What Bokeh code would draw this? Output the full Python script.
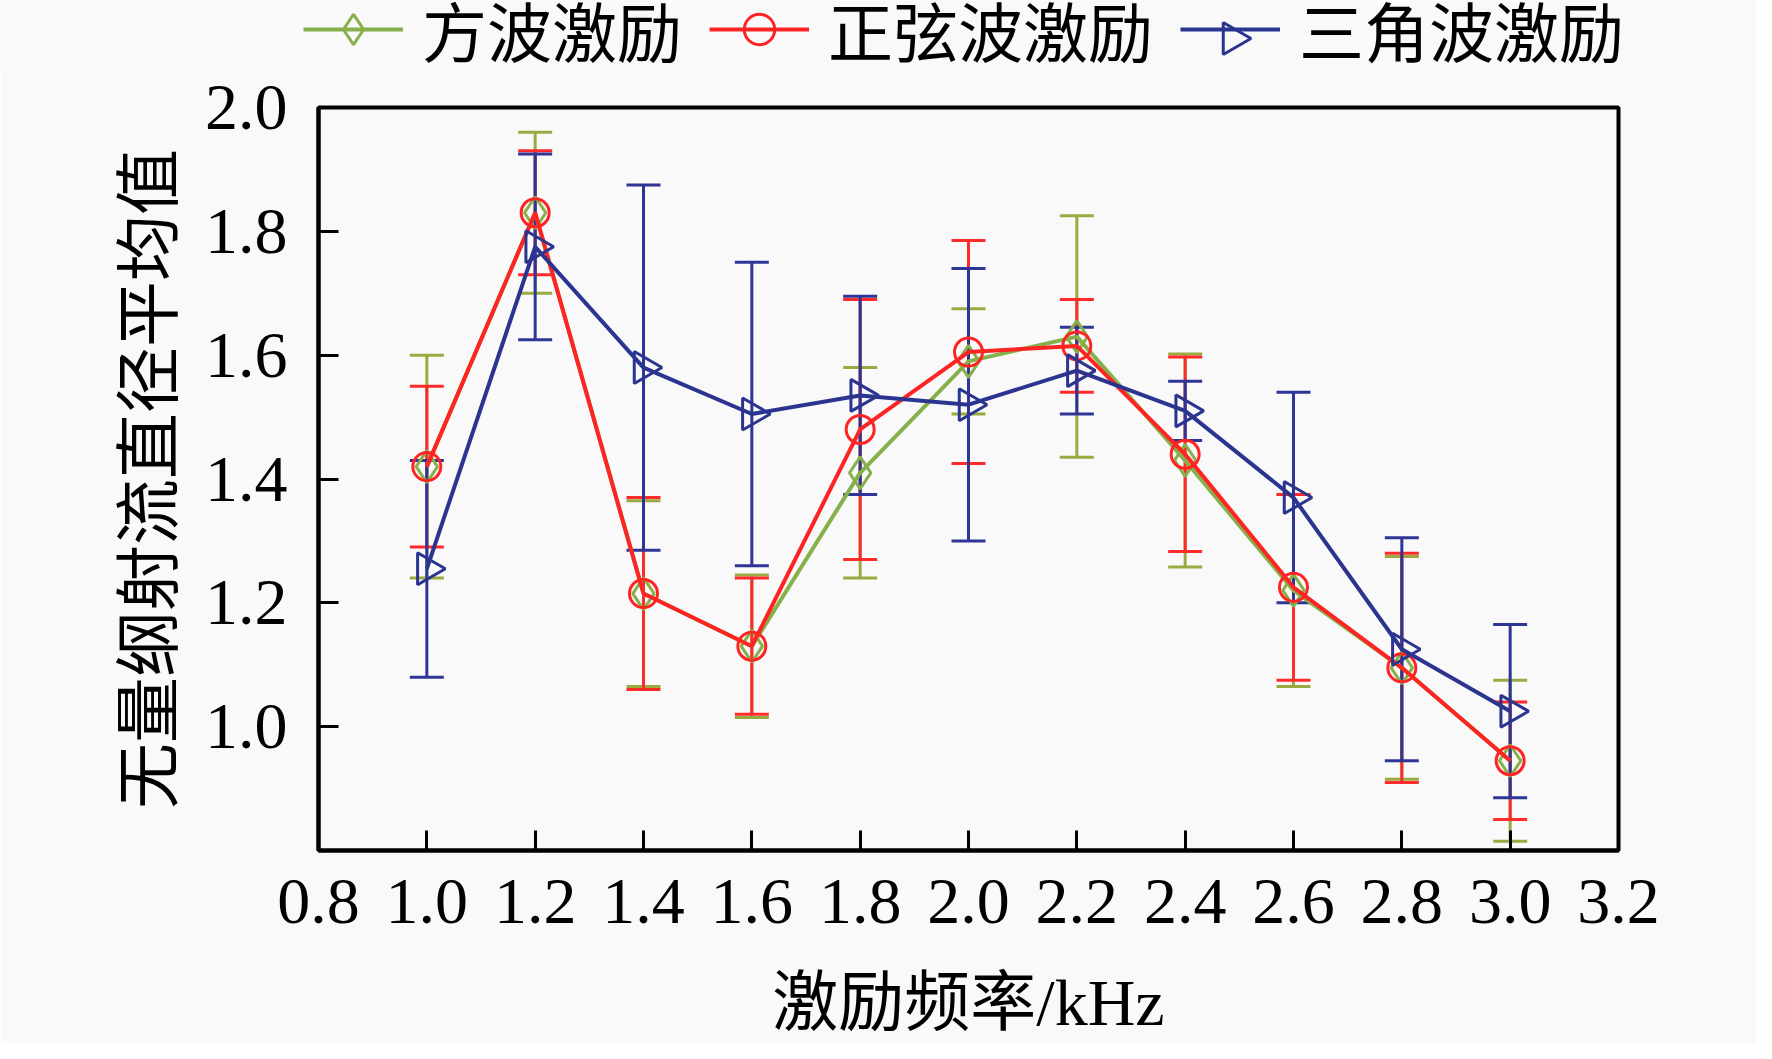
import math
from bokeh.plotting import figure
from bokeh.layouts import column
from bokeh.models import (Range1d, FixedTicker, PrintfTickFormatter, Whisker, TeeHead,
                          ColumnDataSource, Legend, LegendItem)
from bokeh.embed import file_html
from bokeh.resources import INLINE

freq = [1.0, 1.2, 1.4, 1.6, 1.8, 2.0, 2.2, 2.4, 2.6, 2.8, 3.0]

square_mean = [1.42, 1.83, 1.215, 1.13, 1.41, 1.59, 1.63, 1.43, 1.22, 1.095, 0.945]
square_err = [0.18, 0.13, 0.15, 0.115, 0.17, 0.085, 0.195, 0.172, 0.155, 0.18, 0.13]

sine_mean = [1.42, 1.83, 1.215, 1.13, 1.48, 1.605, 1.615, 1.44, 1.225, 1.095, 0.945]
sine_err = [0.13, 0.10, 0.155, 0.11, 0.21, 0.18, 0.075, 0.157, 0.15, 0.185, 0.095]

tri_mean = [1.255, 1.775, 1.58, 1.505, 1.535, 1.52, 1.575, 1.51, 1.37, 1.125, 1.025]
tri_err = [0.175, 0.15, 0.295, 0.245, 0.16, 0.22, 0.07, 0.048, 0.17, 0.18, 0.14]

series_names = ["方波激励", "正弦波激励", "三角波激励"]
x_ticks = [0.8, 1.0, 1.2, 1.4, 1.6, 1.8, 2.0, 2.2, 2.4, 2.6, 2.8, 3.0, 3.2]
y_ticks = [1.0, 1.2, 1.4, 1.6, 1.8, 2.0]

FONT = "'Liberation Serif', 'Times New Roman', 'Noto Sans CJK SC'"
BG = "#f9f9f9"

W = 1756
LEG_H = 70
MAIN_H = 1043 - LEG_H

colors = ["#86b04a", "#ff2424", "#2b3590"]
err_colors = ["#9aaa40", "#ff2a2a", "#2e3596"]
means = [square_mean, sine_mean, tri_mean]
errs = [square_err, sine_err, tri_err]
markers = ["diamond", "circle", "triangle"]
angles = [0.0, 0.0, -math.pi / 2]
sizes = [32, 28, 32]

# ---- main plot ----
p = figure(width=W, height=MAIN_H, output_backend="svg", toolbar_location=None,
           x_range=Range1d(0.8, 3.2), y_range=Range1d(0.8, 2.0),
           min_border_left=318, min_border_right=138, min_border_top=107 - LEG_H,
           min_border_bottom=193,
           background_fill_color=BG, border_fill_color=BG)
p.grid.visible = False
p.outline_line_color = "black"
p.outline_line_width = 4

for ax in (p.xaxis[0], p.yaxis[0]):
    ax.axis_line_width = 4
    ax.axis_line_color = "black"
    ax.major_tick_in = 20
    ax.major_tick_out = 0
    ax.major_tick_line_width = 3
    ax.minor_tick_line_color = None
    ax.major_label_text_font = FONT
    ax.major_label_text_font_size = "66px"
    ax.major_label_text_color = "black"
    ax.axis_label_text_font = FONT
    ax.axis_label_text_font_size = "66px"
    ax.axis_label_text_font_style = "normal"
    ax.axis_label_text_color = "black"
    ax.formatter = PrintfTickFormatter(format="%.1f")

p.xaxis.ticker = FixedTicker(ticks=x_ticks)
p.yaxis.ticker = FixedTicker(ticks=y_ticks)
p.xaxis.major_label_standoff = 29
p.yaxis.major_label_standoff = 31
p.xaxis.axis_label = "激励频率/kHz"
p.yaxis.axis_label = "无量纲射流直径平均值"
p.xaxis.axis_label_standoff = 40
p.yaxis.axis_label_standoff = 16

for i in range(3):
    m = means[i]
    e = errs[i]
    src = ColumnDataSource(dict(x=freq, y=m,
                                lo=[a - b for a, b in zip(m, e)],
                                hi=[a + b for a, b in zip(m, e)]))
    wk = Whisker(source=src, base="x", lower="lo", upper="hi",
                 line_color=err_colors[i], line_width=3,
                 upper_head=TeeHead(size=34, line_color=err_colors[i], line_width=3),
                 lower_head=TeeHead(size=34, line_color=err_colors[i], line_width=3))
    p.add_layout(wk)
    p.line("x", "y", source=src, line_color=colors[i], line_width=4)
    p.scatter("x", "y", source=src, marker=markers[i], size=sizes[i], angle=angles[i],
              line_color=colors[i], line_width=3, fill_alpha=0)

# ---- legend strip: its own frame spans the full width (not aligned to the main frame) ----
lg = figure(width=W, height=LEG_H, output_backend="svg", toolbar_location=None,
            x_range=Range1d(0, W), y_range=Range1d(0, LEG_H),
            x_axis_type=None, y_axis_type=None,
            min_border_left=0, min_border_right=0, min_border_top=0, min_border_bottom=0,
            background_fill_color=BG, border_fill_color=BG, outline_line_color=None)
lg.frame_align = False
lg.grid.visible = False
GLYPH_H = 76
LEG_CENTER = 32          # from the strip's bottom
LEG_Y = LEG_CENTER - GLYPH_H // 2
items = []
for i in range(3):
    ln = lg.line(x=[-100, -90], y=[-100, -90], line_color=colors[i], line_width=4)
    rs = [ln]
    if angles[i] == 0.0:
        sc = lg.scatter(x=[-100], y=[-100], marker=markers[i], size=sizes[i],
                        line_color=colors[i], line_width=3, fill_alpha=0)
        rs.append(sc)
    items.append(LegendItem(label=series_names[i], renderers=rs))

legend = Legend(items=items, orientation="horizontal", location=(303, LEG_Y),
                glyph_width=100, glyph_height=GLYPH_H, label_standoff=19, spacing=27,
                padding=0, margin=0, border_line_color=None, background_fill_alpha=0,
                label_text_font=FONT, label_text_font_size="65px", label_text_color="black")
lg.add_layout(legend)
# rotated (right-pointing) triangle for the third legend entry, centred on its legend line
lg.scatter(x=[1232], y=[LEG_CENTER], marker="triangle", size=sizes[2], angle=angles[2],
           line_color=colors[2], line_width=3, fill_alpha=0)

layout = column(lg, p, spacing=0)
open("out.html", "w").write(file_html(layout, INLINE))
